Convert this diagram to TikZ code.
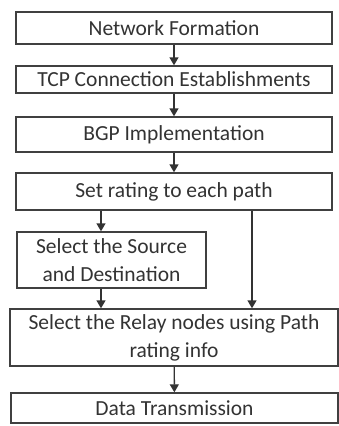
\documentclass[tikz,border=0pt]{standalone}
\usepackage{fontspec}
\setmainfont{Carlito}
\usetikzlibrary{arrows.meta}
\begin{document}
\begin{tikzpicture}[x=1pt,y=-1pt,
  stepbox/.style={draw=black!75,line width=1.4pt,fill=white,text=black!80,
    font=\fontsize{21.5}{28}\selectfont,inner sep=0pt,align=center},
  flow/.style={-{Triangle[width=9pt,length=8pt]},line width=1.4pt,draw=black!80}]
\useasboundingbox (0,0) rectangle (339,426);

\node[stepbox,minimum width=316pt,minimum height=32pt] (net) at (174,28) {Network Formation};
\node[stepbox,minimum width=316pt,minimum height=27pt] (tcp) at (174,79.5) {TCP Connection Establishments};
\node[stepbox,minimum width=316pt,minimum height=35pt] (bgp) at (174,134.5) {BGP Implementation};
\node[stepbox,minimum width=316pt,minimum height=37pt] (rate) at (174,191.5) {Set rating to each path};
\node[stepbox,minimum width=189pt,minimum height=56pt] (src) at (111.5,260) {Select the Source\\and Destination};
\node[stepbox,minimum width=328pt,minimum height=57pt] (relay) at (174,337.5) {Select the Relay nodes using Path\\rating info};
\node[stepbox,minimum width=327pt,minimum height=30pt] (data) at (174.5,408) {Data Transmission};

\coordinate (lft) at (101,0);
\coordinate (rgt) at (252,0);

\draw[flow] (net) -- (tcp);
\draw[flow] (tcp) -- (bgp);
\draw[flow] (bgp) -- (rate);
\draw[flow] (rate.south -| lft) -- (src.north -| lft);
\draw[flow] (rate.south -| rgt) -- (relay.north -| rgt);
\draw[flow] (src.south -| lft) -- (relay.north -| lft);
\draw[flow] (relay) -- (data);
\end{tikzpicture}
\end{document}
